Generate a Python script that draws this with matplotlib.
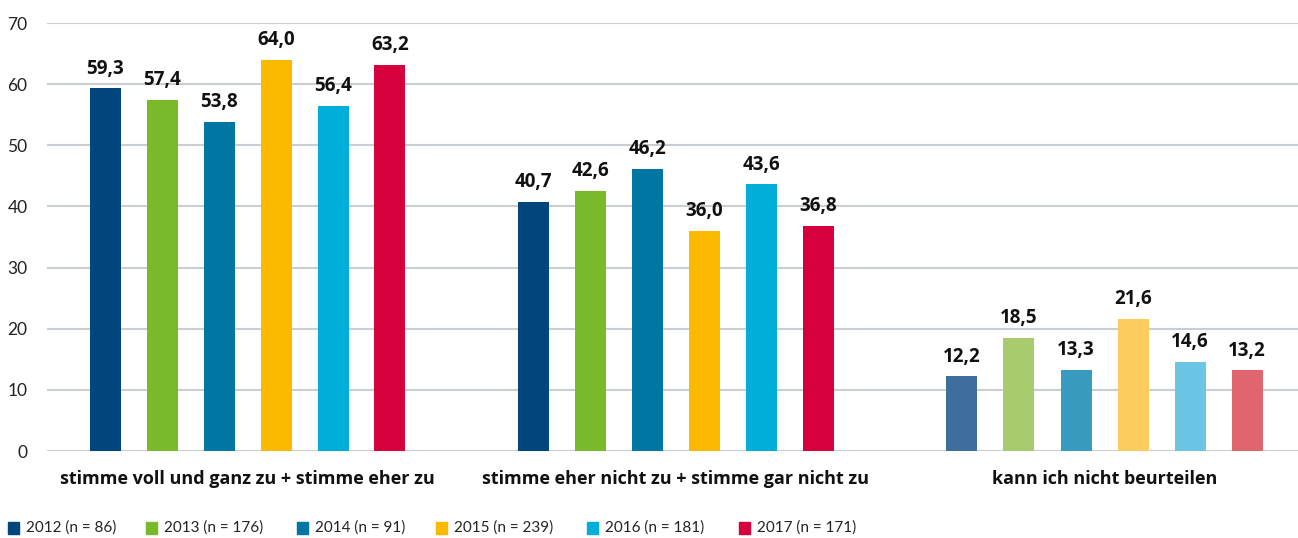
import matplotlib
matplotlib.use("Agg")
import matplotlib.pyplot as plt
from matplotlib.patches import Rectangle
import numpy as np

categories = ["stimme voll und ganz zu + stimme eher zu",
              "stimme eher nicht zu + stimme gar nicht zu",
              "kann ich nicht beurteilen"]
years = ["2012 (n = 86)", "2013 (n = 176)", "2014 (n = 91)",
         "2015 (n = 239)", "2016 (n = 181)", "2017 (n = 171)"]
values = {
    "2012": [59.3, 40.7, 12.2],
    "2013": [57.4, 42.6, 18.5],
    "2014": [53.8, 46.2, 13.3],
    "2015": [64.0, 36.0, 21.6],
    "2016": [56.4, 43.6, 14.6],
    "2017": [63.2, 36.8, 13.2],
}
colors = ["#00457c", "#7ab929", "#0077a3", "#fbb900", "#00afd9", "#d5003c"]
light_colors = ["#3d6e9e", "#a8cb6e", "#3a9bc0", "#fdcc5e", "#6bc6e6", "#e0666d"]
yticks = [0, 10, 20, 30, 40, 50, 60, 70]

plt.rcParams['font.family'] = ['Lato', 'DejaVu Sans']
bold_family = ['Open Sans', 'DejaVu Sans']

W, H = 1298, 538
fig = plt.figure(figsize=(W/100, H/100), dpi=100)
ax = fig.add_axes([47/W, (H-451)/H, (1298-47)/W, (451-23)/H])

step = 57/428.5
width = 31/428.5
x = np.arange(len(categories))
for j, (key, vals) in enumerate(values.items()):
    pos = x + (j - 2.5) * step
    cols = [colors[j], colors[j], light_colors[j]]
    ax.bar(pos, vals, width=width, color=cols, zorder=3)
    for p, v in zip(pos, vals):
        ax.annotate(f"{v:.1f}".replace(".", ","), (p, v), xytext=(0, 7),
                    textcoords="offset points", ha="center", va="bottom",
                    fontsize=13.5, fontweight="bold", color="#111111",
                    family=bold_family)

ax.set_xlim((47-247.5)/428.5, (1298-247.5)/428.5)
ax.set_ylim(0, 70)
ax.set_yticks(yticks)
ax.set_yticklabels([str(t) for t in yticks], fontsize=12.5, color="#222222")
ax.yaxis.grid(True, color="#c9ced3", linewidth=1.5, zorder=0)
ax.set_axisbelow(True)
ax.tick_params(axis="y", length=0, pad=14)
ax.set_xticks(x)
ax.set_xticklabels(categories, fontsize=13, fontweight="bold", color="#111111",
                   family=bold_family)
ax.tick_params(axis="x", length=0, pad=14)
for s in ax.spines.values():
    s.set_visible(False)

leg_x = [8, 146, 297, 436, 587, 739]
for xi, lab, c in zip(leg_x, years, colors):
    fig.patches.append(Rectangle((xi/W, (H-534)/H), 11/W, 12/H,
                                 transform=fig.transFigure, color=c))
    fig.text((xi+18)/W, (H-528)/H, lab, fontsize=11, va="center",
             ha="left", color="#222222")

fig.savefig("out.png", dpi=100)
